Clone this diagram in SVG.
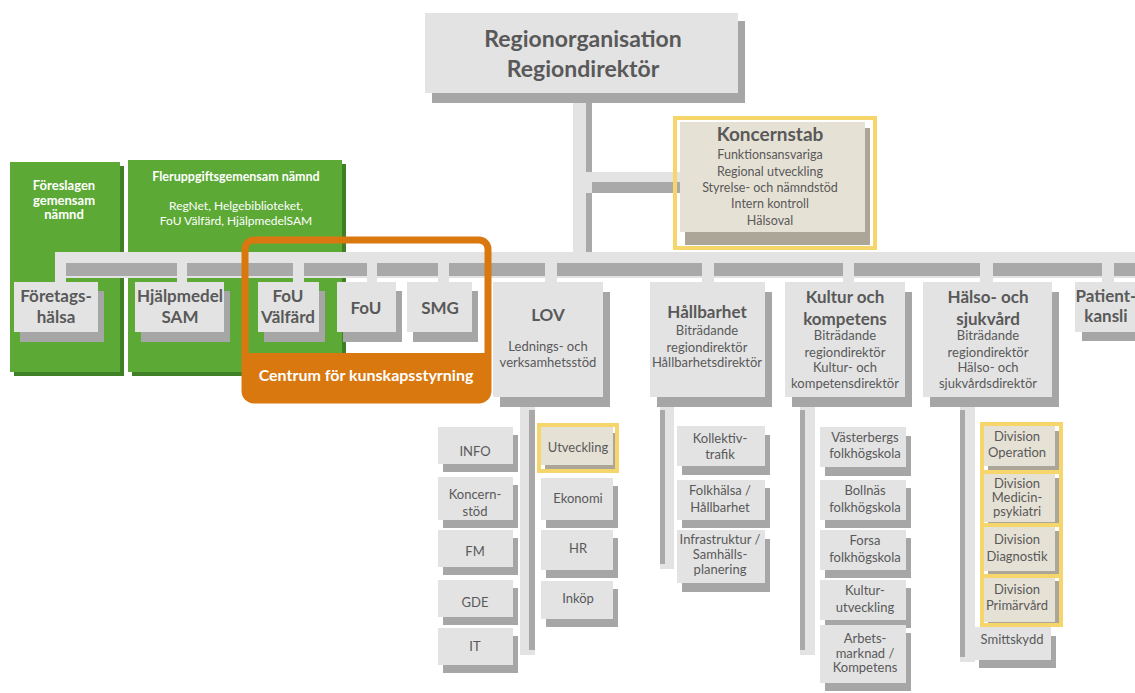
<svg xmlns="http://www.w3.org/2000/svg" width="1135" height="693" viewBox="0 0 1135 693">
<style>
text{font-family:Lato,"Open Sans","Liberation Sans",sans-serif;fill:#595959;text-anchor:middle}
.b{font-weight:bold}
.t{font-size:17px;font-weight:bold}
.s{font-size:13px}
.w{fill:#fff}
.fc{fill:#e3e3e3}
.sh{fill:#a6a6a6}
.bf{fill:#e6e1d5}
.bs{fill:#aca699}
.yb{fill:none;stroke:#f6d56b;stroke-width:4}
.lt{fill:#e3e3e3}
.dk{fill:#a9a9a9}
</style>
<rect width="1135" height="693" fill="#fff"/>

<!-- green boxes -->
<g id="green-foreslagen">
<rect x="14" y="166" width="110" height="210" fill="#3f7f25"/>
<rect x="10" y="162" width="110" height="210" fill="#5ca935"/>
<text class="b w" font-size="13" x="64" y="190">Föreslagen</text>
<text class="b w" font-size="13" x="64" y="205">gemensam</text>
<text class="b w" font-size="13" x="64" y="219">nämnd</text>
</g>
<g id="green-flerupp">
<rect x="132" y="164" width="214" height="212" fill="#3f7f25"/>
<rect x="128" y="160" width="214" height="212" fill="#5ca935"/>
<text class="b w" font-size="12.5" x="236" y="181">Fleruppgiftsgemensam nämnd</text>
<text class="w" font-size="12" x="236" y="210">RegNet, Helgebiblioteket,</text>
<text class="w" font-size="12" x="236" y="225">FoU Välfärd, HjälpmedelSAM</text>
</g>

<!-- connectors -->
<g id="connectors">
<rect class="lt" x="573" y="93" width="19" height="172"/>
<rect class="dk" x="586" y="103" width="6" height="69"/>
<rect class="dk" x="586" y="193" width="6" height="60"/>
<rect class="lt" x="592" y="172" width="90" height="10"/>
<rect class="dk" x="592" y="182" width="90" height="11"/>
<rect class="lt" x="55" y="252" width="1080" height="26"/>
<rect class="dk" x="66" y="263" width="111" height="13"/>
<rect class="dk" x="187" y="263" width="106" height="13"/>
<rect class="dk" x="304" y="263" width="63" height="13"/>
<rect class="dk" x="377" y="263" width="61" height="13"/>
<rect class="dk" x="449" y="263" width="96" height="13"/>
<rect class="dk" x="557" y="263" width="145" height="13"/>
<rect class="dk" x="714" y="263" width="129" height="13"/>
<rect class="dk" x="854" y="263" width="126" height="13"/>
<rect class="dk" x="993" y="263" width="109" height="13"/>
<rect class="dk" x="1114" y="263" width="21" height="13"/>
<rect class="lt" x="55" y="262" width="11" height="22"/>
<rect class="lt" x="177" y="262" width="10" height="22"/>
<rect class="lt" x="293" y="262" width="11" height="22"/>
<rect class="lt" x="367" y="262" width="10" height="22"/>
<rect class="lt" x="438" y="262" width="11" height="22"/>
<rect class="lt" x="545" y="262" width="12" height="22"/>
<rect class="lt" x="702" y="262" width="12" height="22"/>
<rect class="lt" x="843" y="262" width="11" height="22"/>
<rect class="lt" x="980" y="262" width="13" height="22"/>
<rect class="lt" x="1102" y="262" width="12" height="22"/>
<!-- column stems -->
<rect class="lt" x="520" y="397" width="15" height="258"/>
<rect class="dk" x="529" y="410" width="6" height="240"/>
<rect class="lt" x="660" y="397" width="14" height="172"/>
<rect class="dk" x="660" y="410" width="5" height="154"/>
<rect class="lt" x="800" y="397" width="15" height="258"/>
<rect class="dk" x="800" y="410" width="5" height="240"/>
<rect class="lt" x="960" y="397" width="15" height="265"/>
<rect class="dk" x="960" y="410" width="5" height="247"/>
</g>

<!-- top -->
<g id="regionorganisation">
<rect class="sh" x="432" y="21" width="313" height="82"/>
<rect class="fc" x="425" y="13" width="313" height="80"/>
<text class="b" font-size="23" x="583" y="47">Regionorganisation</text>
<text class="b" font-size="23" x="583" y="77">Regiondirektör</text>
</g>

<g id="koncernstab">
<rect class="bs" x="685" y="128" width="185" height="117"/>
<rect class="bf" x="680" y="122" width="185" height="110"/>
<rect class="yb" x="675" y="118" width="200" height="130"/>
<text class="b" font-size="19" x="770" y="141">Koncernstab</text>
<text font-size="12.5" x="770" y="159">Funktionsansvariga</text>
<text font-size="12.5" x="770" y="176">Regional utveckling</text>
<text font-size="12.5" x="770" y="192">Styrelse- och nämndstöd</text>
<text font-size="12.5" x="770" y="208">Intern kontroll</text>
<text font-size="12.5" x="770" y="225">Hälsoval</text>
</g>

<!-- bus row boxes -->
<g id="foretagshalsa">
<rect class="sh" x="20" y="291" width="84" height="51"/>
<rect class="fc" x="14" y="282" width="84" height="50"/>
<text class="t" x="56" y="302">Företags-</text>
<text class="t" x="56" y="323">hälsa</text>
</g>
<g id="hjalpmedel">
<rect class="sh" x="141" y="291" width="89" height="51"/>
<rect class="fc" x="135" y="282" width="89" height="50"/>
<text class="t" x="180" y="302">Hjälpmedel</text>
<text class="t" x="180" y="323">SAM</text>
</g>
<g id="fou-valfard">
<rect class="sh" x="264" y="291" width="61" height="51"/>
<rect class="fc" x="258" y="282" width="61" height="50"/>
<text class="t" x="288" y="302">FoU</text>
<text class="t" x="288" y="323">Välfärd</text>
</g>
<g id="fou">
<rect class="sh" x="343" y="291" width="59" height="51"/>
<rect class="fc" x="337" y="282" width="59" height="50"/>
<text class="t" x="366" y="314">FoU</text>
</g>
<g id="smg">
<rect class="sh" x="413" y="291" width="65" height="51"/>
<rect class="fc" x="407" y="282" width="65" height="50"/>
<text class="t" x="440" y="314">SMG</text>
</g>

<g id="centrum">
<rect x="245" y="353" width="243" height="47" fill="#d9780f"/>
<rect x="245" y="240" width="243" height="160" rx="9" fill="none" stroke="#d9780f" stroke-width="7"/>
<text class="b w" font-size="16" x="366" y="381">Centrum för kunskapsstyrning</text>
</g>

<!-- column heads -->
<g id="lov">
<rect class="sh" x="500" y="292" width="110" height="115"/>
<rect class="fc" x="493" y="282" width="110" height="115"/>
<text class="t" x="548" y="321">LOV</text>
<text class="s" x="548" y="351">Lednings- och</text>
<text class="s" x="548" y="367">verksamhetsstöd</text>
</g>
<g id="hallbarhet">
<rect class="sh" x="657" y="292" width="115" height="115"/>
<rect class="fc" x="650" y="282" width="115" height="115"/>
<text class="t" x="707" y="318">Hållbarhet</text>
<text class="s" x="707" y="335">Biträdande</text>
<text class="s" x="707" y="352">regiondirektör</text>
<text class="s" x="707" y="367">Hållbarhetsdirektör</text>
</g>
<g id="kultur">
<rect class="sh" x="792" y="292" width="120" height="115"/>
<rect class="fc" x="785" y="282" width="120" height="115"/>
<text class="t" x="845" y="303">Kultur och</text>
<text class="t" x="845" y="325">kompetens</text>
<text class="s" x="845" y="340">Biträdande</text>
<text class="s" x="845" y="357">regiondirektör</text>
<text class="s" x="845" y="372">Kultur- och</text>
<text class="s" x="845" y="388">kompetensdirektör</text>
</g>
<g id="halso">
<rect class="sh" x="930" y="292" width="129" height="115"/>
<rect class="fc" x="923" y="282" width="129" height="115"/>
<text class="t" x="988" y="303">Hälso- och</text>
<text class="t" x="988" y="325">sjukvård</text>
<text class="s" x="988" y="340">Biträdande</text>
<text class="s" x="988" y="357">regiondirektör</text>
<text class="s" x="988" y="372">Hälso- och</text>
<text class="s" x="988" y="388">sjukvårdsdirektör</text>
</g>
<g id="patientkansli">
<rect class="sh" x="1082" y="291" width="60" height="50"/>
<rect class="fc" x="1075" y="282" width="65" height="50"/>
<text class="t" x="1106" y="302">Patient-</text>
<text class="t" x="1106" y="322">kansli</text>
</g>

<!-- LOV subs -->
<g id="info"><rect class="sh" x="443" y="435" width="75" height="37"/><rect class="fc" x="438" y="427" width="75" height="37"/><text class="s" x="475" y="456">INFO</text></g>
<g id="koncernstod"><rect class="sh" x="443" y="485" width="75" height="43"/><rect class="fc" x="438" y="477" width="75" height="43"/><text class="s" x="475" y="499">Koncern-</text><text class="s" x="475" y="516">stöd</text></g>
<g id="fm"><rect class="sh" x="443" y="538" width="75" height="37"/><rect class="fc" x="438" y="530" width="75" height="37"/><text class="s" x="475" y="556">FM</text></g>
<g id="gde"><rect class="sh" x="443" y="588" width="75" height="37"/><rect class="fc" x="438" y="580" width="75" height="37"/><text class="s" x="475" y="607">GDE</text></g>
<g id="it"><rect class="sh" x="443" y="636" width="75" height="37"/><rect class="fc" x="438" y="628" width="75" height="37"/><text class="s" x="475" y="651">IT</text></g>

<g id="utveckling"><rect class="bs" x="545" y="433" width="72" height="37"/><rect class="bf" x="541" y="427" width="72" height="38"/><rect class="yb" x="539" y="425" width="78" height="46"/><text class="s" x="578" y="452">Utveckling</text></g>
<g id="ekonomi"><rect class="sh" x="546" y="486" width="72" height="42"/><rect class="fc" x="541" y="478" width="72" height="42"/><text class="s" x="578" y="503">Ekonomi</text></g>
<g id="hr"><rect class="sh" x="546" y="538" width="72" height="40"/><rect class="fc" x="541" y="530" width="72" height="40"/><text class="s" x="578" y="553">HR</text></g>
<g id="inkop"><rect class="sh" x="546" y="589" width="72" height="38"/><rect class="fc" x="541" y="581" width="72" height="38"/><text class="s" x="578" y="603">Inköp</text></g>

<!-- Hållbarhet subs -->
<g id="kollektivtrafik"><rect class="sh" x="682" y="435" width="88" height="40"/><rect class="fc" x="677" y="426" width="88" height="40"/><text class="s" x="720" y="443">Kollektiv-</text><text class="s" x="720" y="459">trafik</text></g>
<g id="folkhalsa"><rect class="sh" x="682" y="488" width="88" height="40"/><rect class="fc" x="677" y="480" width="88" height="40"/><text class="s" x="720" y="495">Folkhälsa /</text><text class="s" x="720" y="512">Hållbarhet</text></g>
<g id="infrastruktur"><rect class="sh" x="682" y="539" width="88" height="53"/><rect class="fc" x="677" y="530" width="88" height="53"/><text class="s" x="720" y="544">Infrastruktur /</text><text class="s" x="720" y="559">Samhälls-</text><text class="s" x="720" y="574">planering</text></g>

<!-- Kultur subs -->
<g id="vasterbergs"><rect class="sh" x="825" y="436" width="86" height="40"/><rect class="fc" x="820" y="427" width="86" height="40"/><text class="s" x="865" y="442">Västerbergs</text><text class="s" x="865" y="458">folkhögskola</text></g>
<g id="bollnas"><rect class="sh" x="825" y="488" width="86" height="40"/><rect class="fc" x="820" y="480" width="86" height="40"/><text class="s" x="865" y="495">Bollnäs</text><text class="s" x="865" y="512">folkhögskola</text></g>
<g id="forsa"><rect class="sh" x="825" y="538" width="86" height="40"/><rect class="fc" x="820" y="530" width="86" height="40"/><text class="s" x="865" y="545">Forsa</text><text class="s" x="865" y="562">folkhögskola</text></g>
<g id="kulturutveckling"><rect class="sh" x="825" y="588" width="86" height="40"/><rect class="fc" x="820" y="580" width="86" height="40"/><text class="s" x="865" y="595">Kultur-</text><text class="s" x="865" y="612">utveckling</text></g>
<g id="arbetsmarknad"><rect class="sh" x="825" y="633" width="86" height="58"/><rect class="fc" x="820" y="625" width="86" height="58"/><text class="s" x="865" y="643">Arbets-</text><text class="s" x="865" y="658">marknad /</text><text class="s" x="865" y="672">Kompetens</text></g>

<!-- Hälso subs -->
<g id="smittskydd"><rect class="sh" x="979" y="636" width="77" height="32"/><rect class="fc" x="974" y="627" width="77" height="33"/><text class="s" x="1012" y="644">Smittskydd</text></g>
<g id="div-operation"><rect class="bs" x="988" y="431" width="71" height="39"/><rect class="bf" x="984" y="426" width="71" height="40"/><rect class="yb" x="982" y="424" width="79" height="48"/><text class="s" x="1017" y="441">Division</text><text class="s" x="1017" y="457">Operation</text></g>
<g id="div-medicin"><rect class="bs" x="988" y="478" width="71" height="46"/><rect class="bf" x="984" y="474" width="71" height="48"/><rect class="yb" x="982" y="472" width="79" height="53"/><text class="s" x="1017" y="488">Division</text><text class="s" x="1017" y="502">Medicin-</text><text class="s" x="1017" y="516">psykiatri</text></g>
<g id="div-diagnostik"><rect class="bs" x="988" y="531" width="71" height="43"/><rect class="bf" x="984" y="527" width="71" height="44"/><rect class="yb" x="982" y="525" width="79" height="51"/><text class="s" x="1017" y="544">Division</text><text class="s" x="1017" y="561">Diagnostik</text></g>
<g id="div-primarvard"><rect class="bs" x="988" y="581" width="71" height="43"/><rect class="bf" x="984" y="578" width="71" height="44"/><rect class="yb" x="982" y="576" width="79" height="49"/><text class="s" x="1017" y="594">Division</text><text class="s" x="1017" y="610">Primärvård</text></g>
</svg>
